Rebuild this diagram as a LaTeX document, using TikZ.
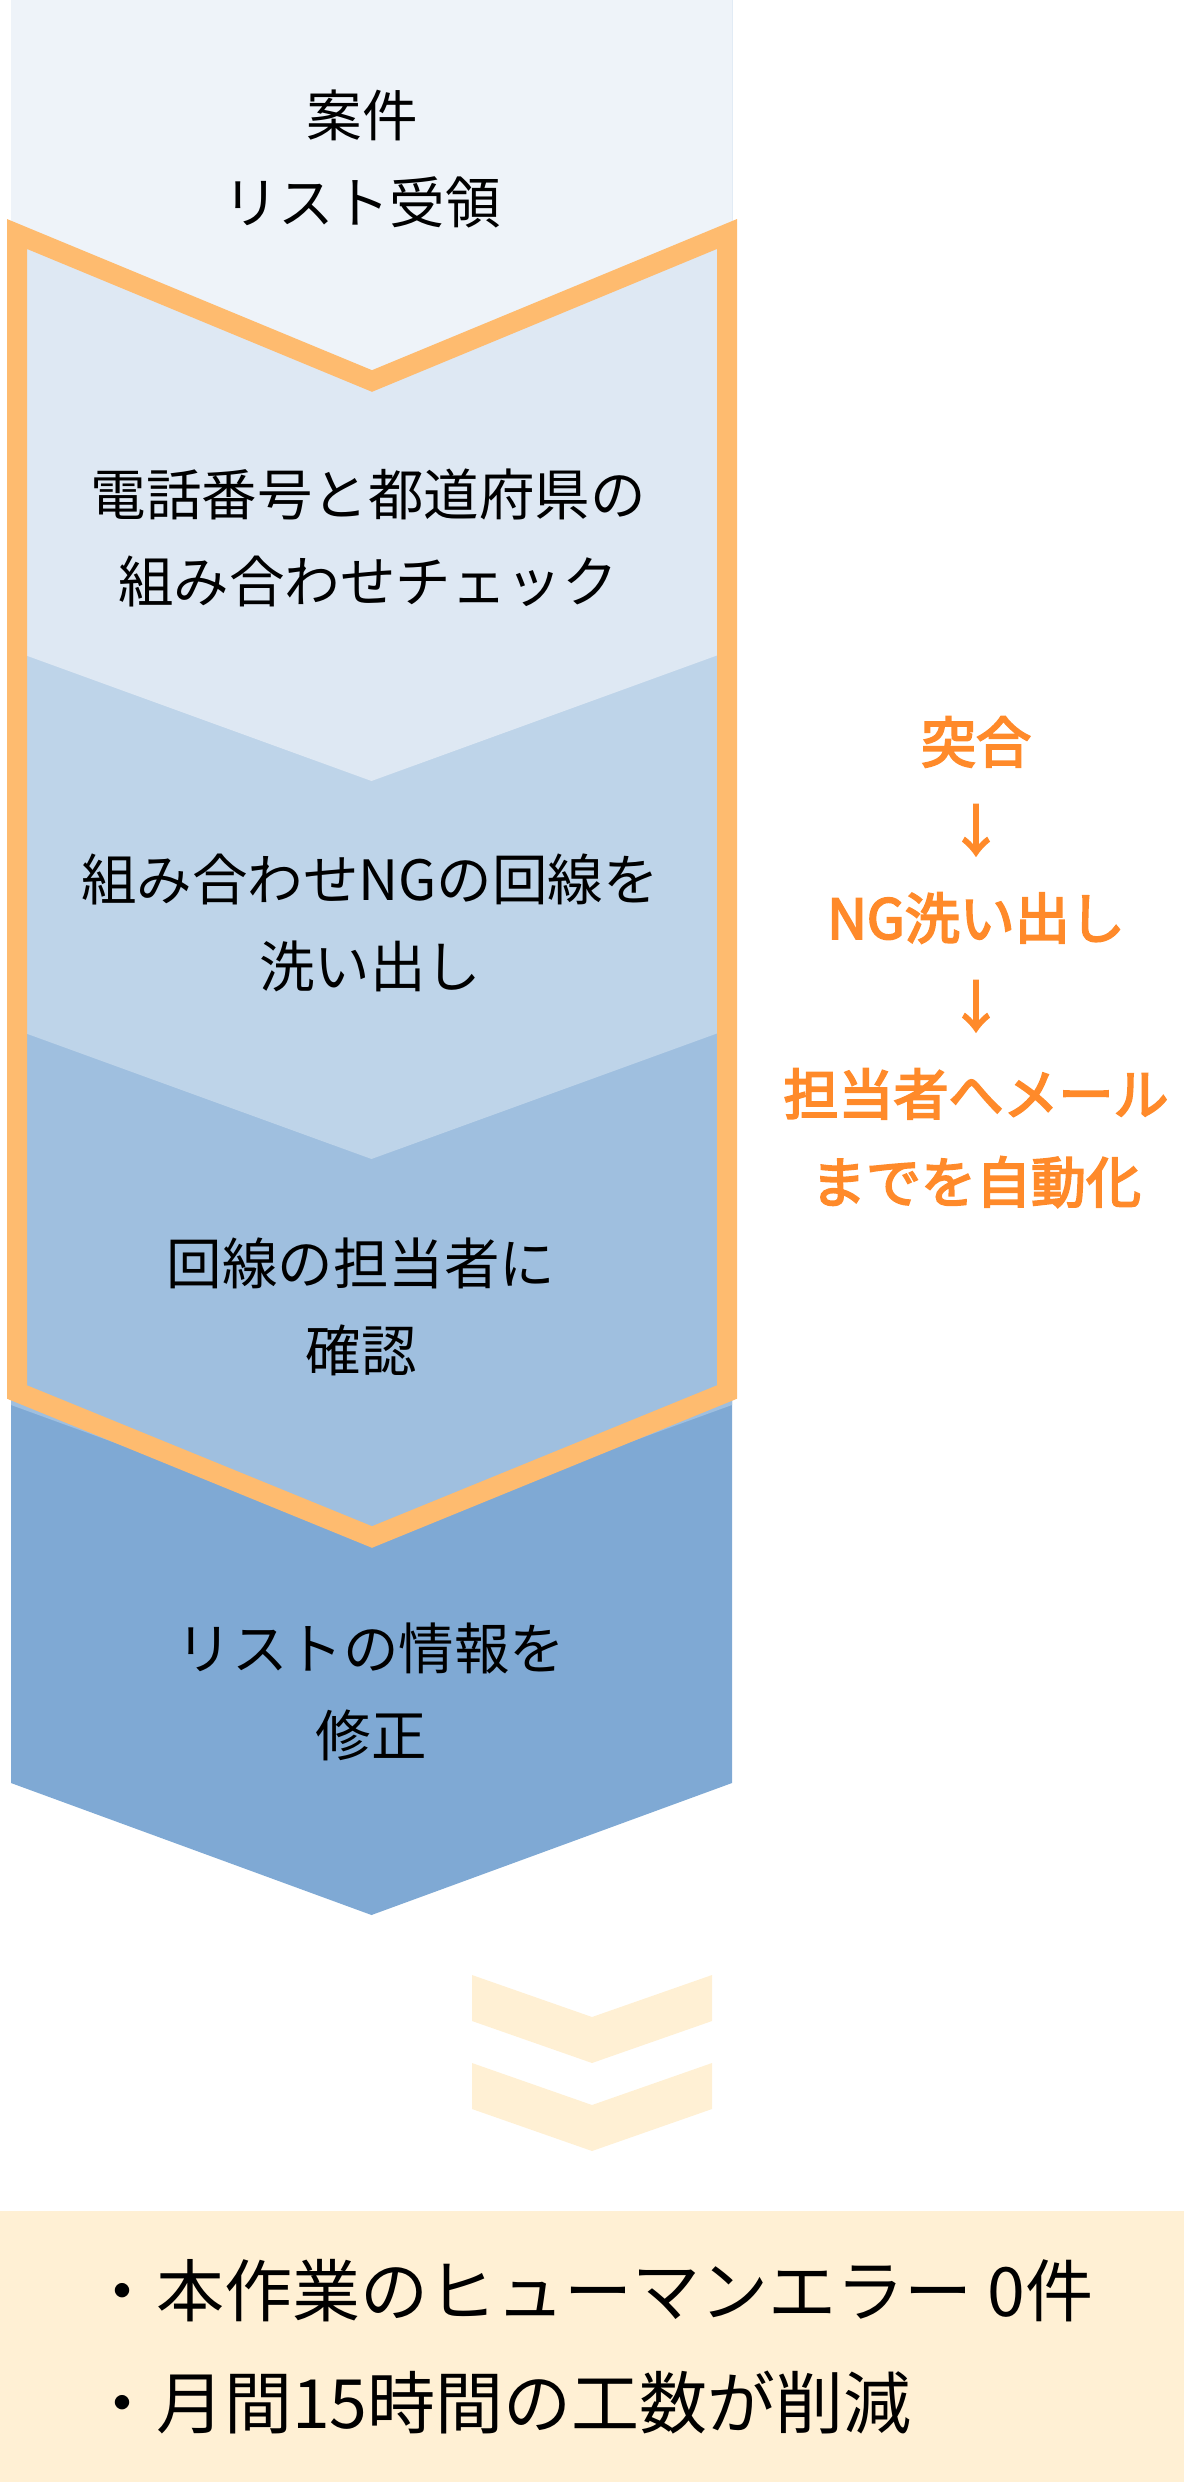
\documentclass[tikz,border=0pt]{standalone}
\usepackage{fontspec}
\setmainfont{Noto Sans CJK JP}
\newfontfamily\jpmedium[FakeBold=3.5]{Noto Sans CJK JP}
\usepackage{xcolor}
\usepackage{tikz}
\usetikzlibrary{positioning}

\definecolor{stepA}{HTML}{EEF3F9}
\definecolor{stepB}{HTML}{DEE8F3}
\definecolor{stepC}{HTML}{BED4E9}
\definecolor{stepD}{HTML}{9FBFDF}
\definecolor{stepE}{HTML}{7FA9D4}
\definecolor{frameorange}{HTML}{FEBB6F}
\definecolor{cream}{HTML}{FFF0D4}
\definecolor{textorange}{HTML}{FF8A2A}

\begin{document}
\begin{tikzpicture}[x=1pt,y=-1pt,
  steptext/.style={align=center,inner sep=0pt,font=\fontsize{55.5}{87}\selectfont},
  autotext/.style={align=center,inner sep=0pt,text=textorange,font=\fontsize{55}{88}\selectfont\jpmedium}]
\useasboundingbox (0,0) rectangle (1184,2484);
% flow blocks, bottom one first
\foreach \e/\d/\col in {1783/132/stepE,1405/131/stepD,1028/131/stepC,650/131/stepB,232/148/stepA}{
  \fill[\col] (11,0) -- (732,0) -- (732,\e) -- (371.5,\e+\d) -- (11,\e) -- cycle;
}
\draw[frameorange,line width=20pt] (17,234) -- (372,381) -- (727,234) -- (727,1392) -- (372,1537) -- (17,1392) -- cycle;
\foreach \t in {1975,2063}{
  \fill[cream] (472,\t) -- (592,\t+42) -- (712,\t) -- (712,\t+46) -- (592,\t+88) -- (472,\t+46) -- cycle;
}
\fill[cream] (0,2211) rectangle (1184,2482);

\node[steptext] (recv) at (362,159) {案件\\リスト受領};
\node[steptext] (check) at (368,538) {電話番号と都道府県の\\組み合わせチェック};
\node[steptext] (ngline) at (370,923) {組み合わせNGの回線を\\洗い出し};
\node[steptext] (confirm) at (361,1307) {回線の担当者に\\確認};
\node[steptext] (fix) at (371,1692) {リストの情報を\\修正};
\node[autotext] (auto) at (976,962) {突合\\↓\\NG洗い出し\\↓\\担当者へメール\\までを自動化};
\node[anchor=west,align=left,inner sep=0pt,font=\fontsize{68}{112}\selectfont] (result) at (88,2347)
  {・本作業のヒューマンエラー 0件\\・月間15時間の工数が削減};
\end{tikzpicture}
\end{document}
